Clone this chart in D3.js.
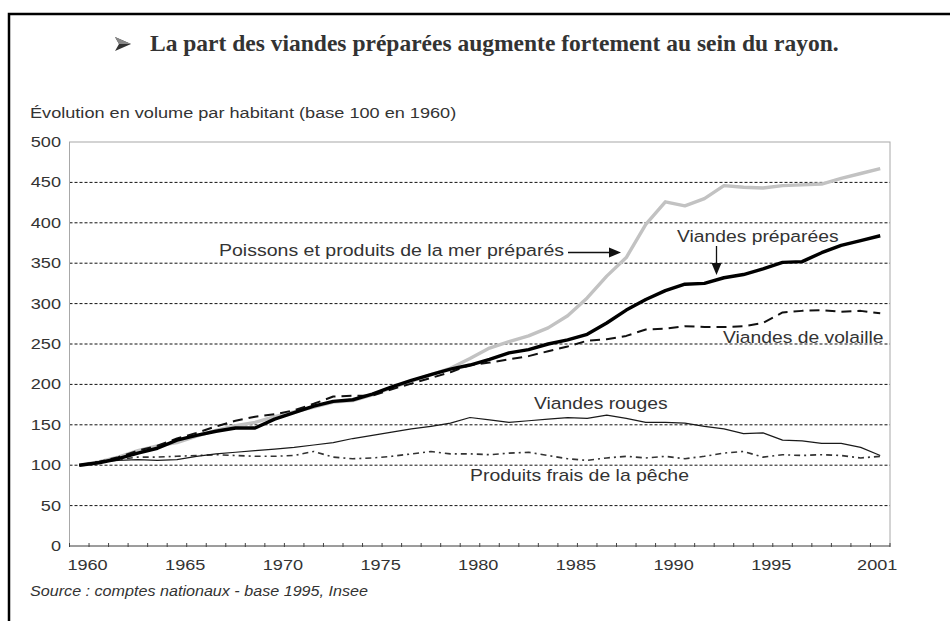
<!DOCTYPE html>
<html>
<head>
<meta charset="utf-8">
<script src="https://cdn.jsdelivr.net/npm/d3@7"></script>
<style>
  body { margin: 0; background: #fff; }
  text { font-family: "Liberation Sans", Arial, sans-serif; fill: #333; }
</style>
</head>
<body>
<script>
// categories
var years = [1960,1961,1962,1963,1964,1965,1966,1967,1968,1969,
             1970,1971,1972,1973,1974,1975,1976,1977,1978,1979,
             1980,1981,1982,1983,1984,1985,1986,1987,1988,1989,
             1990,1991,1992,1993,1994,1995,1996,1997,1998,1999,
             2000,2001];
var yearLabels = [1960,1965,1970,1975,1980,1985,1990,1995,2001];
var yTicks = [0,50,100,150,200,250,300,350,400,450,500];

// series, base 100 en 1960
var poissonsPrep = [100,104,110,118,124,128,136,143,149,153,
                    160,166,172,178,180,187,196,204,212,220,
                    232,245,253,260,270,285,307,334,357,398,
                    426,421,430,446,444,443,446,447,448,455,
                    461,467];
var viandesPrep = [100,103,108,115,121,131,137,142,146,146,
                   157,165,173,179,181,188,197,205,212,219,
                   224,231,239,243,250,255,262,276,292,305,
                   316,324,325,332,336,343,351,352,363,372,
                   378,384];
var volaille = [100,104,110,118,124,133,140,148,155,160,
                163,168,176,185,186,186,194,201,208,215,
                224,227,231,235,241,247,254,256,260,268,
                269,272,271,271,272,276,289,291,292,290,
                291,288];
var rouges = [100,104,106,107,106,107,111,114,116,118,
              120,122,125,128,133,137,141,145,148,152,
              159,156,153,155,157,159,158,162,158,153,
              153,152,148,145,139,140,131,130,127,127,
              122,112];
var pecheFrais = [100,104,107,110,110,111,112,113,112,111,
                  111,112,117,110,108,109,111,114,117,114,
                  114,113,115,116,112,108,106,109,111,109,
                  111,108,111,115,117,110,113,112,113,112,
                  109,111];

var W = 950, H = 621;
var SX = 1.17; // the text in the source is a bit stretched sideways

var svg = d3.select("body").append("svg")
    .attr("width", W)
    .attr("height", H);

svg.append("rect").attr("width", W).attr("height", H).attr("fill", "#fff");

// outer frame
svg.append("rect")
    .attr("x", 9).attr("y", 14)
    .attr("width", 980).attr("height", 700)
    .attr("fill", "none")
    .attr("stroke", "#000")
    .attr("stroke-width", 2.5);

// title with the little arrow bullet
svg.append("path")
    .attr("d", "M115,37 L131,44 L115,51 L119,44 Z")
    .attr("fill", "#333");
svg.append("path")
    .attr("d", "M115,37 L131,44 L119,44 Z")
    .attr("fill", "#888");
svg.append("text")
    .attr("x", 150).attr("y", 51)
    .style("font-family", "'Liberation Serif', 'Times New Roman', serif")
    .style("font-weight", "bold")
    .style("font-size", "23.5px")
    .text("La part des viandes préparées augmente fortement au sein du rayon.");

function label(x, y, str, size, anchor, italic) {
  var t = svg.append("text")
      .attr("transform", "translate(" + x + "," + y + ") scale(" + SX + ",1)")
      .style("font-size", size + "px")
      .attr("text-anchor", anchor || "start")
      .text(str);
  if (italic) t.style("font-style", "italic");
  return t;
}

label(30, 118, "Évolution en volume par habitant (base 100 en 1960)", 15.5);

var plotL = 69.5, plotR = 890, plotT = 142, plotB = 546;

var x = d3.scaleBand().domain(years).range([plotL, plotR]);
var bw = x.bandwidth();
var y = d3.scaleLinear().domain([0, 500]).range([plotB, plotT]);

// grid
svg.selectAll("line.grid")
  .data(yTicks.filter(function(d){ return d > 0 && d < 500; }))
  .enter().append("line")
    .attr("class", "grid")
    .attr("x1", plotL).attr("x2", plotR)
    .attr("y1", function(d){ return y(d); })
    .attr("y2", function(d){ return y(d); })
    .attr("stroke", "#111")
    .attr("stroke-width", 1)
    .attr("stroke-dasharray", "3,2");

// plot frame
svg.append("rect")
    .attr("x", plotL).attr("y", plotT)
    .attr("width", plotR - plotL).attr("height", plotB - plotT)
    .attr("fill", "none")
    .attr("stroke", "#a8a8a8")
    .attr("stroke-width", 1);
svg.append("line")
    .attr("x1", plotL).attr("x2", plotR)
    .attr("y1", plotB).attr("y2", plotB)
    .attr("stroke", "#666").attr("stroke-width", 1.2);

// x ticks on the band edges
svg.selectAll("line.xtick")
  .data(years.concat(["end"]))
  .enter().append("line")
    .attr("class", "xtick")
    .attr("x1", function(d){ return d === "end" ? plotR : x(d); })
    .attr("x2", function(d){ return d === "end" ? plotR : x(d); })
    .attr("y1", plotB - 3).attr("y2", plotB + 1)
    .attr("stroke", "#444").attr("stroke-width", 1);

// y labels
yTicks.forEach(function(d){
  label(61, y(d) + 5, d, 15.5, "end");
});

// x labels
yearLabels.forEach(function(d, i){
  var cx = (i === yearLabels.length - 1) ? x(d) + bw/2 - 3 : x(d) + bw - 1.5;
  label(cx, 569.5, d, 15.5, "middle");
});

var line = d3.line()
    .x(function(d, i){ return x(years[i]) + bw/2; })
    .y(function(d){ return y(d); });

function draw(data, color, width, dash) {
  var p = svg.append("path")
      .datum(data)
      .attr("d", line)
      .attr("fill", "none")
      .attr("stroke", color)
      .attr("stroke-width", width)
      .attr("stroke-linejoin", "round");
  if (dash) p.attr("stroke-dasharray", dash);
}

draw(poissonsPrep, "#c2c2c2", 3.4);
draw(pecheFrais, "#333", 1.6, "6,4,2,4");
draw(rouges, "#1a1a1a", 1.2);
draw(volaille, "#111", 2, "10,6");
draw(viandesPrep, "#000", 3.4);

// annotations
label(219, 256, "Poissons et produits de la mer préparés", 16.7, "start");
label(677, 242, "Viandes préparées", 16.5, "start");
label(723, 343, "Viandes de volaille", 16.5, "start");
label(534, 409, "Viandes rouges", 16.5, "start");
label(470, 481, "Produits frais de la pêche", 16.6, "start");

svg.append("line")
    .attr("x1", 568).attr("x2", 611)
    .attr("y1", 252.5).attr("y2", 252.5)
    .attr("stroke", "#111").attr("stroke-width", 1.3);
svg.append("path")
    .attr("d", "M621,252.5 L609,247.5 L609,257.5 Z")
    .attr("fill", "#111");
svg.append("line")
    .attr("x1", 716.5).attr("x2", 716.5)
    .attr("y1", 246).attr("y2", 265)
    .attr("stroke", "#111").attr("stroke-width", 1.3);
svg.append("path")
    .attr("d", "M716.5,275 L711.5,263 L721.5,263 Z")
    .attr("fill", "#111");

label(30, 596, "Source : comptes nationaux - base 1995, Insee", 13.8, "start", true);
</script>
</body>
</html>
